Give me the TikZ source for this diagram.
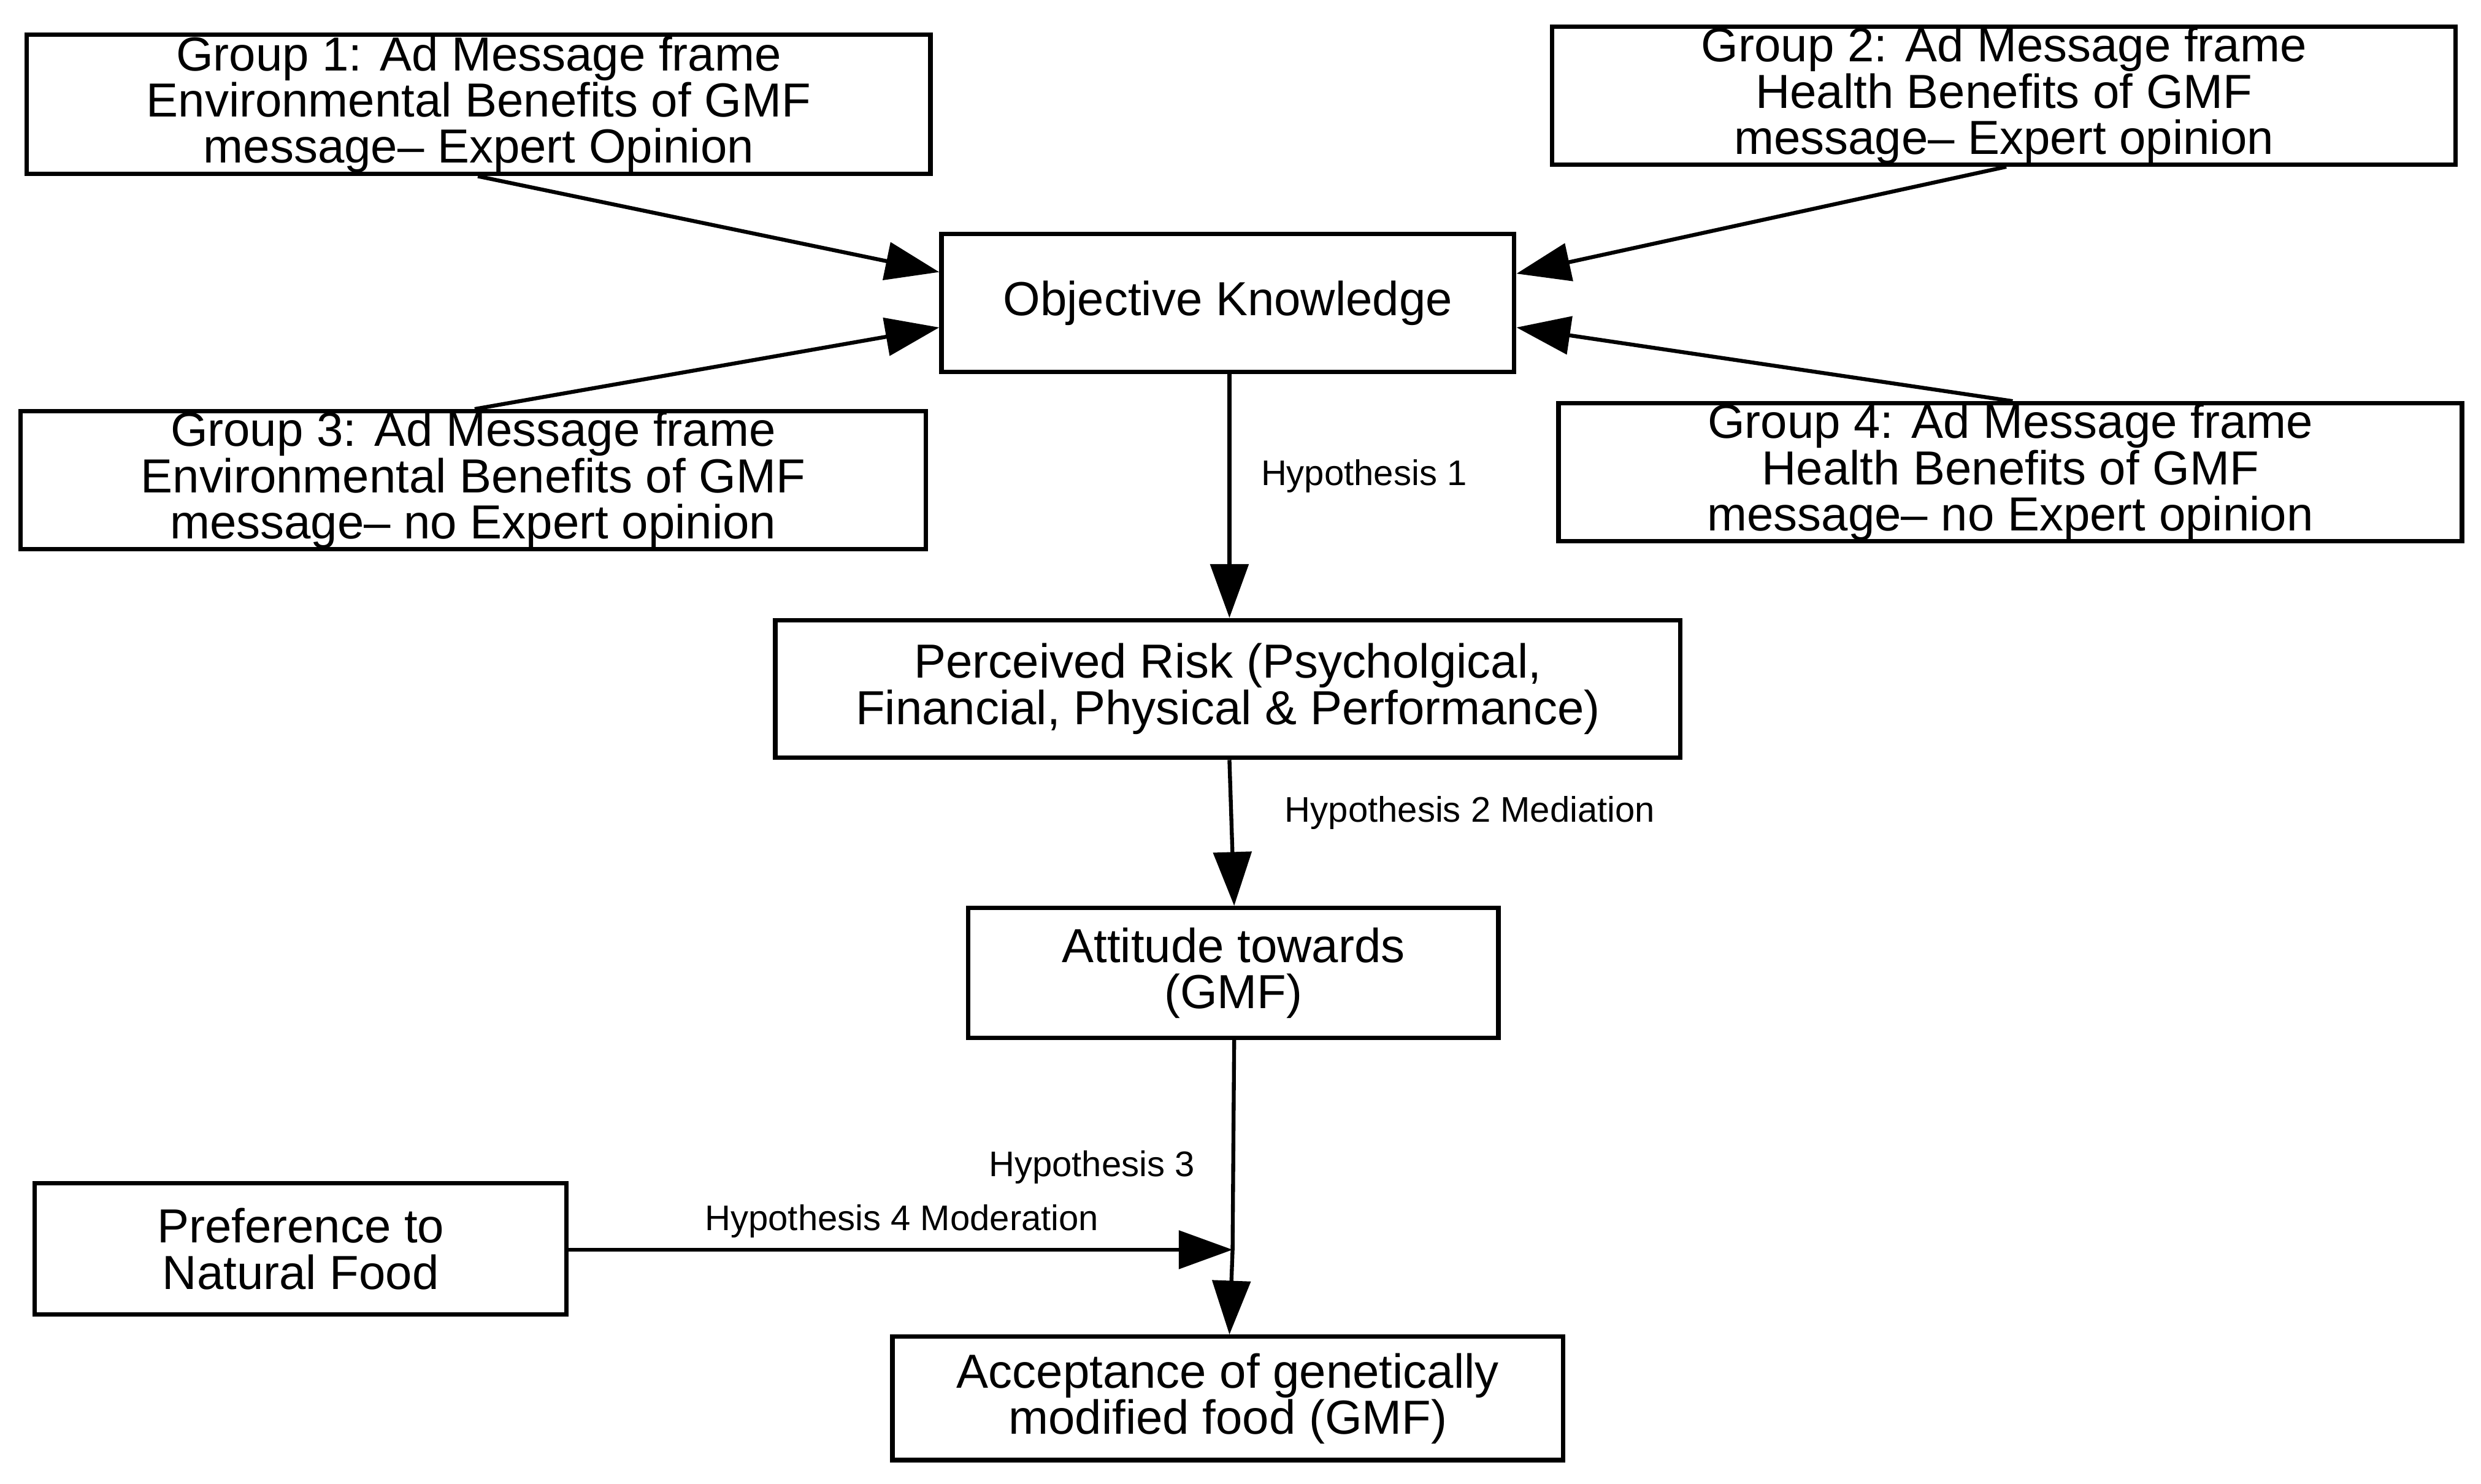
\documentclass[tikz,border=0pt]{standalone}
\usepackage{fontspec}
\setmainfont{Liberation Sans}
\usetikzlibrary{arrows.meta}
\begin{document}
\begin{tikzpicture}[x=0.1mm,y=-0.1mm,
 box/.style={draw,line width=0.8pt,align=center,inner sep=0pt,font=\fontsize{8.6}{8.3}\selectfont},
 arr/.style={line width=0.7pt,-{Triangle[length=3.4mm,width=2.4mm]}},
 lab/.style={font=\fontsize{6.4}{7}\selectfont,inner sep=0pt}]
\useasboundingbox (0,0) rectangle (1568,938);
\newcommand{\mybox}[6]{\node[box,minimum width={(#4-#2)*0.1mm},minimum height={(#5-#3)*0.1mm}] (#1) at ({(#2+#4)/2},{(#3+#5)/2}) {#6};}
\mybox{g1}{17}{22}{588}{110}{Group 1: Ad Message frame\\Environmental Benefits of GMF\\message-- Expert Opinion}
\mybox{g2}{981}{17}{1552}{104}{Group 2: Ad Message frame\\Health Benefits of GMF\\message-- Expert opinion}
\mybox{ok}{595}{148}{957}{235}{Objective Knowledge}
\mybox{g3}{13}{260}{585}{347}{Group 3: Ad Message frame\\Environmental Benefits of GMF\\message-- no Expert opinion}
\mybox{g4}{985}{255}{1556}{342}{Group 4: Ad Message frame\\Health Benefits of GMF\\message-- no Expert opinion}
\mybox{pr}{490}{392}{1062}{479}{Perceived Risk (Psycholgical,\\Financial, Physical \& Performance)}
\mybox{at}{612}{574}{947}{656}{Attitude towards\\(GMF)}
\mybox{pn}{22}{748}{358}{831}{Preference to\\Natural Food}
\mybox{ac}{564}{845}{988}{923}{Acceptance of genetically\\modified food (GMF)}
\coordinate (m) at (779,790);
\draw[arr] (g1.south -| 302,0) -- (ok.west |- 0,172);
\draw[arr] (g2.south -| 1268,0) -- (ok.east |- 0,173);
\draw[arr] (g3.north -| 300,0) -- (ok.west |- 0,207);
\draw[arr] (g4.north -| 1272,0) -- (ok.east |- 0,207);
\draw[arr] (ok.south -| 777,0) -- (pr.north -| 777,0);
\draw[arr] (pr.south -| 777,0) -- (at.north -| 780,0);
\draw[line width=0.7pt] (at.south -| 780,0) -- (m);
\draw[arr] (m) -- (ac.north -| 777,0);
\draw[arr] (pn.east |- m) -- (m);
\node[lab] at (862,301) {Hypothesis 1};
\node[lab] at (929,514) {Hypothesis 2 Mediation};
\node[lab] at (690,738) {Hypothesis 3};
\node[lab] at (570,772) {Hypothesis 4 Moderation};
\end{tikzpicture}
\end{document}
